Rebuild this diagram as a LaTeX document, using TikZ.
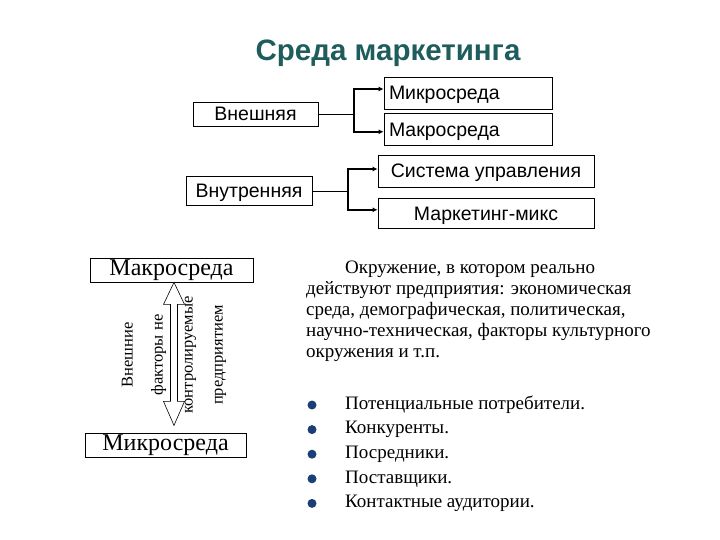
\documentclass[tikz,border=0pt]{standalone}
\usepackage{fontspec}
\setmainfont{Liberation Serif}
\setsansfont{Liberation Sans}
\usetikzlibrary{arrows.meta, positioning}
\definecolor{titleteal}{HTML}{1F5C5C}
\definecolor{dotblue}{HTML}{1B3E78}

\begin{document}
\begin{tikzpicture}[
  x=1pt, y=-1pt,
  box/.style={draw, line width=0.8pt, minimum height=32pt, inner sep=0pt, text depth=0pt,
    align=center, font=\sffamily\fontsize{19.5}{21}\selectfont},
  lbox/.style={box, text width=158pt, align=left},
  sbox/.style={draw, line width=0.8pt, minimum height=24pt, inner sep=0pt,
    font=\fontsize{24}{25}\selectfont},
  stem/.style={line width=0.8pt},
  branch/.style={-{Latex[length=5pt, width=5pt]}, line width=1.6pt},
  item/.style={anchor=west, inner sep=0pt, font=\fontsize{19}{21}\selectfont},
  dot/.style={circle, fill=dotblue, inner sep=0pt, minimum size=9pt}
]
\useasboundingbox (0,0) rectangle (720,540);

\node[font=\sffamily\bfseries\fontsize{29.5}{32}\selectfont, text=titleteal] (title) at (388,53) {Среда маркетинга};

% external / internal environment
\node[box, minimum width=125pt, minimum height=24pt] (ext) at (255.5,114) {Внешняя};
\node[lbox, minimum width=168pt] (micro) at (468,93) {Микросреда};
\node[lbox, minimum width=168pt, below=4pt of micro] (macro) {Макросреда};
\node[box, minimum width=126pt, minimum height=29pt] (int) at (249,191) {Внутренняя};
\node[box, minimum width=216pt] (ctrl) at (486,171) {Система управления};
\node[box, minimum width=216pt, minimum height=30pt, below=11pt of ctrl] (mix) {Маркетинг-микс};

\coordinate (jA) at (354,114);
\coordinate (jB) at (348,191);
\draw[stem] (ext.east) -- (jA);
\draw[branch] (jA) |- ([yshift=4pt]micro.west);
\draw[branch] (jA) |- ([yshift=-2pt]macro.west);
\draw[stem] (int.east) -- (jB);
\draw[branch] (jB) |- ([yshift=2pt]ctrl.west);
\draw[branch] (jB) |- ([yshift=4pt]mix.west);

% macro / micro
\node[sbox, minimum width=163pt] (macroB) at (171.5,270) {Макросреда};
\node[sbox, minimum width=161pt] (microB) at (165.5,445) {Микросреда};
\draw[line width=0.6pt, fill=white] ([xshift=2.5pt]macroB.south) -- ++(10.5,22) -- ++(-7,0)
  -- ++(0,97) -- ++(7,0) -- ++(-10.5,24) -- ++(-10.5,-24) -- ++(7,0) -- ++(0,-97)
  -- ++(-7,0) -- cycle;
\node[rotate=90, align=center, font=\fontsize{16.5}{30}\selectfont] (factors) at (174,355)
  {Внешние\\ факторы не\\ контролируемые\\ предприятием};

\node[anchor=north west, inner sep=0pt, align=left, font=\fontsize{19}{21}\selectfont] (desc) at (306,261)
  {\hspace*{39pt}Окружение, в котором реально\\
   действуют предприятия: экономическая\\
   среда, демографическая, политическая,\\
   научно-техническая, факторы культурного\\
   окружения и т.п.};

\foreach \t [count=\i] in {Потенциальные потребители., Конкуренты., Посредники., Поставщики., Контактные аудитории.}{
  \node[dot] (d\i) at (312,{405+24.6*(\i-1)}) {};
  \node[item] (it\i) at (345,{405+24.6*(\i-1)}) {\t};
}
\end{tikzpicture}
\end{document}
